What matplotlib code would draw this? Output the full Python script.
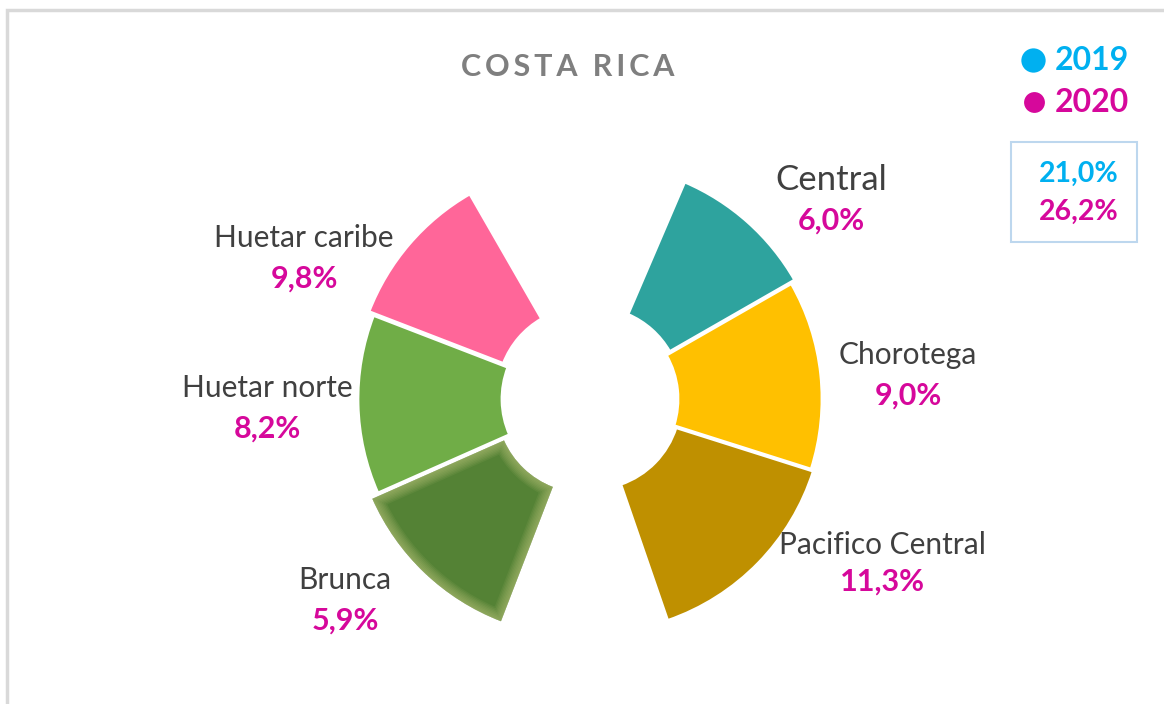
import matplotlib.pyplot as plt
from matplotlib.patches import PathPatch, Rectangle

plt.rcParams['font.family'] = ['Lato', 'DejaVu Sans']

# ---- data ----
regions = ['Pacifico Central', 'Chorotega', 'Central', 'Huetar caribe', 'Huetar norte', 'Brunca']
pct_2020 = [11.3, 9.0, 6.0, 9.8, 8.2, 5.9]
slice_deg = [53.4, 47.4, 37.0, 39.0, 45.0, 45.0]   # arc of each slice
gap_deg = [53.1, 40.1]                              # empty arcs, top and bottom
years = ['2019', '2020']
totals = [21.0, 26.2]

# ---- style / layout ----
CYAN = '#00B0F0'
MAGENTA = '#D6089B'
GREY = '#404040'
colors = {'Pacifico Central': '#BF9000', 'Chorotega': '#FFC000', 'Central': '#2EA39E',
          'Huetar caribe': '#FF6699', 'Huetar norte': '#70AD47', 'Brunca': '#548235'}
explode_px = {'Central': 5, 'Pacifico Central': 3, 'Huetar caribe': 6, 'Brunca': 8}
# label anchors in image pixels (x, y of name line)
label_xy = {'Central': (831, 180), 'Chorotega': (908, 355), 'Pacifico Central': (882, 545),
            'Brunca': (345, 580), 'Huetar norte': (267, 388), 'Huetar caribe': (304, 238)}
W, H = 1164, 704
CX, CY, R, HOLE = 590, H - 399, 232, 88


def fmt(v):
    return f'{v:.1f}%'.replace('.', ',')


fig = plt.figure(figsize=(W / 100, H / 100), dpi=100)
ax = fig.add_axes([0, 0, 1, 1])

sizes = slice_deg[:3] + [gap_deg[0]] + slice_deg[3:] + [gap_deg[1]]
names = regions[:3] + [None] + regions[3:] + [None]
wedges, _ = ax.pie(sizes, colors=[colors.get(n, 'none') for n in names],
                   explode=[explode_px.get(n, 0) for n in names],
                   startangle=-71, counterclock=True, radius=R, center=(CX, CY),
                   wedgeprops=dict(width=R - HOLE, edgecolor='white', linewidth=2))
for w, n in zip(wedges, names):
    if n is None:
        w.set_visible(False)

# soft edges on Brunca
bw = wedges[names.index('Brunca')]
bw.set_edgecolor('none')
for lw in range(2, 18, 2):
    glow = PathPatch(bw.get_path(), transform=ax.transData, fill=False,
                     edgecolor='#c3ca82', lw=lw, alpha=0.09, joinstyle='round')
    ax.add_patch(glow)
    glow.set_clip_path(bw)

# labels
for n, v in zip(regions, pct_2020):
    x, y = label_xy[n]
    ax.text(x, H - y, n, ha='center', va='center', color=GREY,
            fontsize=25 if n == 'Central' else 21.5)
    ax.text(x, H - y - 41 + (0 if n != 'Pacifico Central' else 4), fmt(v),
            ha='center', va='center', color=MAGENTA, fontsize=22, fontweight='bold')

# title
ax.text(568, H - 67, '\u2009'.join('COSTA RICA'), ha='center', va='center',
        color='#7F7F7F', fontsize=22, fontweight='bold')

# legend
for (mx, my, ms), yr, c in zip([(1033, 60, 17.5), (1034, 102, 15)], years, [CYAN, MAGENTA]):
    ax.plot(mx, H - my, 'o', ms=ms, color=c, mec='none')
    ax.text(1055, H - my, yr, ha='left', va='center', color=c, fontsize=23, fontweight='bold')

ax.add_patch(Rectangle((1011, H - 242), 126, 100, fill=False, edgecolor='#BDD7EE', lw=1.5))
for t, c, ty in zip(totals, [CYAN, MAGENTA], [174, 212]):
    ax.text(1079, H - ty, fmt(t), ha='center', va='center', color=c, fontsize=20.5, fontweight='bold')

# outer frame (top and left only)
ax.plot([7, 7, W], [0, H - 10, H - 10], color='#D9D9D9', lw=2.5, solid_joinstyle='miter')

ax.set_xlim(0, W)
ax.set_ylim(0, H)
ax.set_aspect('equal')
ax.axis('off')

fig.savefig('out.png', dpi=100)
